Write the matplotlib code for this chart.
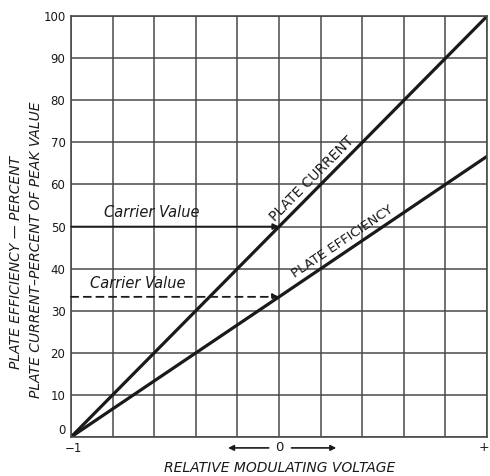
import numpy as np
import matplotlib
matplotlib.use("Agg")
import matplotlib.pyplot as plt

# data
voltage = [-1.0, 0.0, 1.0]
plate_current = [0.0, 50.0, 100.0]
plate_efficiency = [0.0, 33.3, 66.7]
carrier_current = 50.0
carrier_efficiency = 33.3
y_ticks = list(range(0, 101, 10))
x_grid = np.linspace(-1, 1, 11)

plt.rcParams.update({
    'font.family': 'DejaVu Sans',
    'font.size': 9,
})

fig = plt.figure(figsize=(4.9, 4.76), dpi=100)
ax = fig.add_axes([0.145, 0.082, 0.849, 0.884])

ink = '#1a1a1a'
grid_col = '#4a4a4a'

ax.set_xlim(-1, 1)
ax.set_ylim(0, 100)
ax.set_yticks(y_ticks)
ax.set_xticks(x_grid)
ax.grid(True, color=grid_col, linewidth=1.1)
ax.tick_params(length=0, labelsize=8.5, colors=ink, pad=4)
ax.set_xticklabels([])
ax.get_yticklabels()[0].set_va('bottom')
for s in ax.spines.values():
    s.set_color(grid_col)
    s.set_linewidth(1.2)

ax.plot(voltage, plate_current, color=ink, linewidth=2.3, solid_capstyle='round')
ax.plot(voltage, plate_efficiency, color=ink, linewidth=2.3, solid_capstyle='round')

# carrier value markers
ax.annotate('', xy=(0, carrier_current), xytext=(-1, carrier_current),
            arrowprops=dict(arrowstyle='-|>', color=ink, lw=1.2,
                            mutation_scale=9, shrinkA=0, shrinkB=0))
ax.annotate('', xy=(0, carrier_efficiency), xytext=(-1, carrier_efficiency),
            arrowprops=dict(arrowstyle='-|>', color=ink, lw=1.3, linestyle=(0, (4, 3)),
                            mutation_scale=9, shrinkA=0, shrinkB=0))
ax.text(-0.61, carrier_current + 1.5, 'Carrier Value', style='italic', fontsize=10.5,
        ha='center', va='bottom', color=ink)
ax.text(-0.68, carrier_efficiency + 1.5, 'Carrier Value', style='italic', fontsize=10.5,
        ha='center', va='bottom', color=ink)

# curve labels rotated along the lines
def line_label(txt, x, xs, ys, size):
    y = np.interp(x, xs, ys)
    p0 = ax.transData.transform((xs[0], ys[0]))
    p1 = ax.transData.transform((xs[-1], ys[-1]))
    ang = np.degrees(np.arctan2(p1[1] - p0[1], p1[0] - p0[0]))
    ax.text(x, y + 1.2, txt, rotation=ang, rotation_mode='anchor', ha='center',
            va='bottom', fontsize=size, color=ink)

line_label('PLATE CURRENT', 0.18, voltage, plate_current, 10)
line_label('PLATE EFFICIENCY', 0.32, voltage, plate_efficiency, 9.5)

# x axis labels
xt = ax.get_xaxis_transform()
ax.text(-0.99, -0.012, '\u22121', transform=xt, ha='center', va='top', fontsize=8.5, color=ink)
ax.text(0, -0.026, '0', transform=xt, ha='center', va='center', fontsize=9.5, color=ink)
ax.text(0.985, -0.026, '+', transform=xt, ha='center', va='center', fontsize=9, color=ink)
ax.annotate('', xy=(-0.245, -0.026), xytext=(-0.05, -0.026), xycoords=xt, textcoords=xt,
            arrowprops=dict(arrowstyle='-|>', color=ink, lw=1.2, mutation_scale=8,
                            shrinkA=0, shrinkB=0), annotation_clip=False)
ax.annotate('', xy=(0.275, -0.026), xytext=(0.06, -0.026), xycoords=xt, textcoords=xt,
            arrowprops=dict(arrowstyle='-|>', color=ink, lw=1.2, mutation_scale=8,
                            shrinkA=0, shrinkB=0), annotation_clip=False)

fig.text(280 / 490, 1 - 468 / 476, 'RELATIVE MODULATING VOLTAGE', style='italic',
         ha='center', va='center', fontsize=10, color=ink)
fig.text(16 / 490, 1 - 262 / 476, 'PLATE EFFICIENCY \u2014 PERCENT', style='italic',
         rotation=90, ha='center', va='center', fontsize=10, color=ink)
fig.text(36 / 490, 1 - 250 / 476, 'PLATE CURRENT\u2013PERCENT OF PEAK VALUE', style='italic',
         rotation=90, ha='center', va='center', fontsize=10, color=ink)

fig.savefig('out.png', dpi=100)
